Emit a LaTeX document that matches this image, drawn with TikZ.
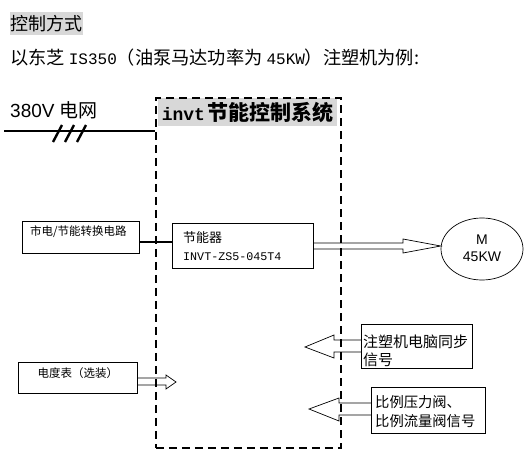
\documentclass[tikz,border=0pt]{standalone}
\usepackage{fontspec}
\usetikzlibrary{shapes.geometric}
\setmainfont{Liberation Serif}
\newfontfamily\cjk{Noto Sans CJK SC}
\newfontfamily\arialf{Liberation Sans}
\newfontfamily\monof{Liberation Mono}
\definecolor{hl}{RGB}{216,216,216}
\newcommand{\fs}[1]{\fontsize{#1}{#1}\selectfont}
\tikzset{
  box/.style={draw, line width=0.9pt, inner sep=0pt, anchor=north west},
  txt/.style={inner sep=0pt, anchor=west},
  hollow/.style={draw, line width=0.7pt, line join=miter},
  sysbox/.style={draw, line width=1.8pt, dash pattern=on 8pt off 5pt, inner sep=0pt, anchor=north west},
}
\begin{document}
\begin{tikzpicture}[x=1pt,y=-1pt]
\useasboundingbox (0,0) rectangle (531,455);
% headings
\node[fill=hl, anchor=north west, minimum width=73pt, minimum height=23pt, inner sep=0pt, font=\cjk\fs{18}] (h1) at (10,12) {控制方式};
\node[txt, font=\cjk\fs{18.2}] (h2) at (10,58) {以东芝 {\monof\fs{16}IS350}（油泵马达功率为 {\monof\fs{16}45KW}）注塑机为例:};
% grid
\node[txt, font=\arialf\fs{19}] (grid) at (10,110) {380V {\cjk 电网}};
% system box
\node[fill=hl, anchor=north west, minimum width=179pt, minimum height=28pt, inner sep=0pt] (systitle) at (158,98) {\bfseries{\monof\fs{18}invt} {\cjk\fs{21}节能控制系统}};
\node[sysbox, minimum width=185pt, minimum height=350pt] (sys) at (155,97) {};
\coordinate (gs) at (4,131);
\draw[line width=2.8pt] (gs) -- (sys.west |- gs);
\foreach \x in {53,65,77}{
  \draw[line width=2.4pt] (\x,142) -- (\x+9,125);
}
% 市电/节能转换电路
\node[box, minimum width=117pt, minimum height=32pt] (sd) at (22,221) {};
\node[txt, font=\cjk\fs{11.5}] (sdt) at (30,232) {市电/节能转换电路};
% 节能器
\node[box, minimum width=141pt, minimum height=45pt] (jnq) at (172,223) {};
\node[txt, font=\cjk\fs{13}] (jnq1) at (183,238) {节能器};
\node[txt, font=\monof\fs{11.7}] (jnq2) at (183,257) {INVT-ZS5-045T4};
\coordinate (gl) at (0,242);
\draw[line width=2pt] (sd.east |- gl) -- (jnq.west |- gl);
% motor
\node[draw, ellipse, line width=0.7pt, minimum width=82pt, minimum height=62pt, inner sep=0pt] (mot) at (482,249) {};
\node[font=\arialf\fs{14}, inner sep=0pt] (m1) at (482,240) {M};
\node[font=\arialf\fs{14}, inner sep=0pt] (m2) at (482,257) {45KW};
\draw[hollow] (jnq.east |- 0,243) -- (403,243) -- (403,239) -- (mot.west |- 0,246) -- (403,253) -- (403,249) -- (jnq.east |- 0,249);
% 电度表
\node[box, minimum width=119pt, minimum height=31pt] (db) at (18,362) {};
\node[font=\cjk\fs{11.5}, inner sep=0pt] (dbt) at (db.north |- 0,373) {电度表（选装）};
\coordinate (dbtip) at (176,382);
\draw[hollow] (db.east |- 0,378) -- (166,378) -- (166,375) -- (dbtip) -- (166,389) -- (166,385) -- (db.east |- 0,385);
% 注塑机电脑同步信号
\node[box, minimum width=111pt, minimum height=44pt] (zs) at (361,324) {};
\node[txt, font=\cjk\fs{15}] (zs1) at (363,342) {注塑机电脑同步};
\node[txt, font=\cjk\fs{15}] (zs2) at (363,360) {信号};
\coordinate (zstip) at (305,347);
\draw[hollow] (zs.west |- 0,340) -- (334,340) -- (334,335) -- (zstip) -- (334,358) -- (334,352) -- (zs.west |- 0,352);
% 比例阀
\node[box, minimum width=114pt, minimum height=46pt] (bl) at (371,387) {};
\node[txt, font=\cjk\fs{14.3}] (bl1) at (375,402) {比例压力阀、};
\node[txt, font=\cjk\fs{14.3}] (bl2) at (375,421) {比例流量阀信号};
\coordinate (bltip) at (309,409);
\draw[hollow] (bl.west |- 0,403) -- (339,403) -- (339,398) -- (bltip) -- (339,421) -- (339,415) -- (bl.west |- 0,415);
\end{tikzpicture}
\end{document}
